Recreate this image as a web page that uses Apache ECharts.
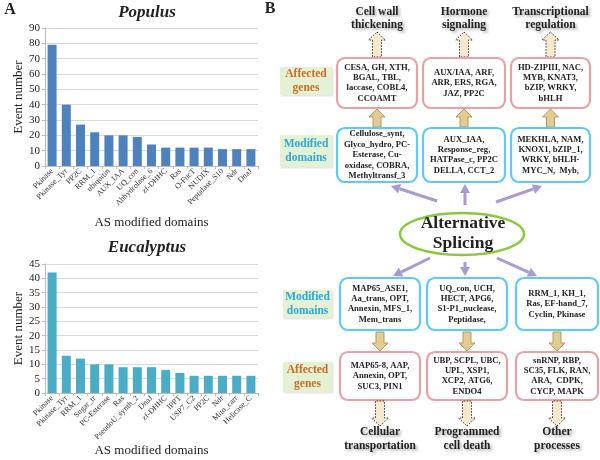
<!DOCTYPE html>
<html><head><meta charset="utf-8">
<script src="https://cdn.jsdelivr.net/npm/echarts@6/dist/echarts.min.js"></script>
<style>html,body{margin:0;padding:0;background:#fff}#c{width:600px;height:460px}</style>
</head><body><div id="c"></div>
<script>
// ---- Data: panel A ----
var populusDomains = ['Pkinase','Pkinase_Tyr','PP2C','RRM_1','ubiquitin','AUX_IAA','UQ_con','Abhydrolase_6','zf-DHHC','Ras','O-FucT','NUDIX','Peptidase_S10','Ndr','DnaJ'];
var populusEvents = [79,40,27,22,20,20,19,14,12,12,12,12,11,11,11];
var eucalyptusDomains = ['Pkinase','Pkinase_Tyr','RRM_1','Sugar_tr','PC-Esterase','Ras','PseudoU_synth_2','DnaJ','zf-DHHC','IPPT','USP7_C2','PP2C','Ndr','Mito_carr','Helicase_C'];
var eucalyptusEvents = [42,13,12,10,10,9,9,9,8,7,6,6,6,6,6];
var populusTicks = [0,10,20,30,40,50,60,70,80,90];
var eucalyptusTicks = [0,5,10,15,20,25,30,35,40,45];

// ---- Data: panel B ----
var topProcesses = ['Cell wall\nthickening','Hormone\nsignaling','Transcriptional\nregulation'];
var topGenes = ['CESA, GH, XTH,\nBGAL, TBL,\nlaccase, COBL4,\nCCOAMT','AUX/IAA, ARF,\nARR, ERS, RGA,\nJAZ, PP2C','HD-ZIPIII, NAC,\nMYB, KNAT3,\nbZIP, WRKY,\nbHLH'];
var topDomains = ['Cellulose_synt,\nGlyco_hydro, PC-\nEsterase, Cu-\noxidase, COBRA,\nMethyltransf_3','AUX_IAA,\nResponse_reg,\nHATPase_c, PP2C\nDELLA, CCT_2','MEKHLA, NAM,\nKNOX1, bZIP_1,\nWRKY, bHLH-\nMYC_N,  Myb,'];
var bottomDomains = ['MAP65_ASE1,\nAa_trans, OPT,\nAnnexin, MFS_1,\nMem_trans','UQ_con, UCH,\nHECT, APG6,\nS1-P1_nuclease,\nPeptidase,','RRM_1, KH_1,\nRas, EF-hand_7,\nCyclin, Pkinase'];
var bottomGenes = ['MAP65-8, AAP,\nAnnexin, OPT,\nSUC3, PIN1','UBP, SCPL, UBC,\nUPL, XSP1,\nXCP2, ATG6,\nENDO4','snRNP, RBP,\nSC35, FLK, RAN,\nARA,  CDPK,\nCYCP, MAPK'];
var bottomProcesses = ['Cellular\ntransportation','Programmed\ncell death','Other\nprocesses'];
var centerLabel = 'Alternative\nSplicing';
var rowLabels = ['Affected\ngenes','Modified\ndomains'];

var SERIF = '"Liberation Serif","DejaVu Serif",serif';
var chart = echarts.init(document.getElementById('c'));

function yAx(gi, ticks){
  return {gridIndex:gi, type:'value', min:ticks[0], max:ticks[ticks.length-1], interval:ticks[1]-ticks[0],
    name:'Event number', nameLocation:'middle', nameGap:20, nameTextStyle:{fontFamily:SERIF,fontSize:13,color:'#222'},
    axisLine:{show:true,lineStyle:{color:'#bdbdbd'}}, axisTick:{show:true,length:3,lineStyle:{color:'#bdbdbd'}},
    axisLabel:{fontFamily:SERIF,fontSize:11,color:'#222',margin:5},
    splitLine:{lineStyle:{color:'#d9d9d9'}}};
}
function xAx(gi, cats, gap){
  return {gridIndex:gi, type:'category', data:cats,
    name:'AS modified domains', nameLocation:'middle', nameGap:gap, nameTextStyle:{fontFamily:SERIF,fontSize:13,color:'#222'},
    axisLine:{lineStyle:{color:'#bdbdbd'}}, axisTick:{show:true,length:3,lineStyle:{color:'#bdbdbd'}},
    axisLabel:{interval:0, rotate:45, fontFamily:SERIF, fontSize:8, color:'#333', margin:4}};
}

// ---- diagram graphics ----
var g = [];
function txt(x,y,s,opt){
  g.push({type:'text', x:x, y:y, style:Object.assign({text:s, fontFamily:SERIF, fontWeight:'bold', fontSize:8.6, fill:'#222', textAlign:'center', textVerticalAlign:'middle', lineHeight:10.4}, opt||{})});
}
function box(x1,y1,x2,y2,color,s){
  g.push({type:'rect', shape:{x:x1,y:y1,width:x2-x1,height:y2-y1,r:8}, style:{fill:'#fff',stroke:color,lineWidth:2.2}});
  txt((x1+x2)/2,(y1+y2)/2,s);
}
function blockArrow(cx,y1,y2,up,hw,sw,hh,style){
  var p;
  if(up){p=[[cx,y1],[cx+hw/2,y1+hh],[cx+sw/2,y1+hh],[cx+sw/2,y2],[cx-sw/2,y2],[cx-sw/2,y1+hh],[cx-hw/2,y1+hh]];}
  else {p=[[cx,y2],[cx+hw/2,y2-hh],[cx+sw/2,y2-hh],[cx+sw/2,y1],[cx-sw/2,y1],[cx-sw/2,y2-hh],[cx-hw/2,y2-hh]];}
  g.push({type:'polygon', shape:{points:p}, style:style});
}
var dotted = {fill:'#f7e9cf', stroke:'#333', lineWidth:1, lineDash:[1.5,1.5]};
var tan = {fill:'#e3cc94', stroke:'#b49a5e', lineWidth:1};
function purple(x1,y1,x2,y2){
  var ang=Math.atan2(y2-y1,x2-x1), L=9, W=5;
  var bx=x2-L*Math.cos(ang), by=y2-L*Math.sin(ang);
  g.push({type:'line', shape:{x1:x1,y1:y1,x2:bx,y2:by}, style:{stroke:'#a99bd2',lineWidth:3}});
  g.push({type:'polygon', shape:{points:[[x2,y2],[bx+W*Math.sin(ang),by-W*Math.cos(ang)],[bx-W*Math.sin(ang),by+W*Math.cos(ang)]]}, style:{fill:'#a99bd2'}});
}
var cols = [[337,417],[423,505],[511,590]];
var colsB = [[340,420],[427,507],[516,598]];
var pink='#e3a3a6', blue='#5ec9f2';
var shadow = {textShadowColor:'rgba(0,0,0,0.35)', textShadowBlur:3, textShadowOffsetX:2, textShadowOffsetY:2};

for(var i=0;i<3;i++){
  var c=cols[i], cx=(c[0]+c[1])/2;
  txt(cx,19,topProcesses[i],Object.assign({fontSize:11.5,lineHeight:13},shadow));
  blockArrow(cx,32,57,true,17,9,8,dotted);
  box(c[0],58,c[1],108,pink,topGenes[i]);
  blockArrow(cx,109,127,true,16,8,8,tan);
  box(c[0],128,c[1],182,blue,topDomains[i]);
  var cb=colsB[i], cxb=(cb[0]+cb[1])/2;
  box(cb[0],278,cb[1],330,blue,bottomDomains[i]);
  blockArrow(cxb,332,351,false,16,8,8,tan);
  box(cb[0],352,cb[1],400,pink,bottomGenes[i]);
  blockArrow(cxb,401,426,false,17,9,8,dotted);
  txt(cxb,439,bottomProcesses[i],Object.assign({fontSize:11.5,lineHeight:14},shadow));
}
// row labels
function label(x1,y1,x2,y2,s,color){
  g.push({type:'rect', shape:{x:x1,y:y1,width:x2-x1,height:y2-y1}, style:{fill:'#e4f2d3',shadowColor:'rgba(0,0,0,0.15)',shadowBlur:2,shadowOffsetX:1,shadowOffsetY:1}});
  txt((x1+x2)/2,(y1+y2)/2,s,{fontSize:11.5,lineHeight:14,fill:color});
}
label(280,67,332,95,rowLabels[0],'#cf6a23');
label(280,135,332,167,rowLabels[1],'#2aa8e0');
label(283,290,332,318,rowLabels[1],'#2aa8e0');
label(283,362,332,392,rowLabels[0],'#cf6a23');
// ellipse
g.push({type:'ellipse', shape:{cx:462,cy:234,rx:62,ry:21}, style:{fill:'#fff',stroke:'#8cc63f',lineWidth:2.5}});
txt(463,233,centerLabel,{fontSize:17.5,lineHeight:20});
// purple arrows
purple(437,201,391,186); purple(465,205,465,184); purple(496,202,542,186);
purple(430,258,393,276); purple(465,262,465,276); purple(497,258,537,276);
// Panel letters
txt(270,9,'B',{fontSize:16});
txt(10,10,'A',{fontSize:16});
// chart titles
txt(147,13,'Populus',{fontSize:17,fontStyle:'italic'});
txt(147,248,'Eucalyptus',{fontSize:17,fontStyle:'italic'});

chart.setOption({
  animation:false,
  grid:[{left:45,top:28,width:213,height:138},{left:45,top:264,width:213,height:129}],
  xAxis:[xAx(0,populusDomains,50), xAx(1,eucalyptusDomains,46)],
  yAxis:[yAx(0,populusTicks), yAx(1,eucalyptusTicks)],
  series:[
    {type:'bar', xAxisIndex:0, yAxisIndex:0, data:populusEvents, barWidth:9, itemStyle:{color:'#4f81bd'}},
    {type:'bar', xAxisIndex:1, yAxisIndex:1, data:eucalyptusEvents, barWidth:9, itemStyle:{color:'#4bacc6'}}
  ],
  graphic:g
});
</script></body></html>
